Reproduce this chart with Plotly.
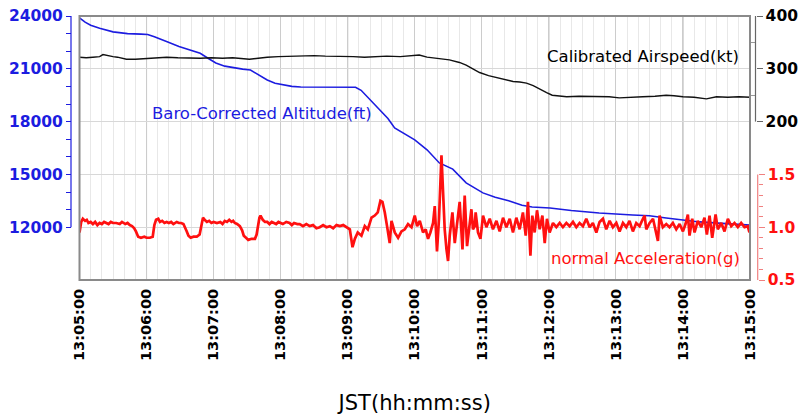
import pandas as pd
import plotly.graph_objects as go

BASE = "2000-01-01 "
T0 = pd.Timestamp(BASE + "13:05:00")
T1 = pd.Timestamp(BASE + "13:15:00")

# ---- Baro-corrected altitude (ft): seconds after 13:05:00, value
alt_t = [0, 5, 10, 18, 30, 43, 55, 61, 67, 73, 79, 89, 99, 108, 115, 122, 130, 138, 146, 153,
         160, 168, 175, 182, 190, 198, 220, 247, 252, 256, 262, 269, 276, 282, 291, 300, 311,
         322, 334, 346, 361, 372, 384, 385, 387, 396, 405, 421, 440, 465, 495, 510, 525, 540,
         555, 575, 597, 600]
alt_v = [23900, 23650, 23480, 23300, 23100, 23000, 22970, 22950, 22820, 22650, 22520, 22270,
         22070, 21880, 21600, 21330, 21150, 21050, 20980, 20930, 20680, 20360, 20180, 20080,
         20000, 19970, 19960, 19950, 19780, 19510, 19150, 18660, 18180, 17640, 17300, 16960,
         16400, 15650, 15300, 14520, 13950, 13700, 13500, 13480, 13400, 13250, 13150, 13094,
         12950, 12810, 12697, 12650, 12526, 12420, 12300, 12220, 12130, 12120]

# ---- Calibrated airspeed (kt)
cas_t = [0, 6, 12, 18, 21, 25, 30, 34, 38, 42, 50, 60, 70, 78, 88, 98, 108, 118, 128, 137,
         145, 152, 160, 168, 178, 188, 197, 210, 220, 233, 245, 255, 265, 275, 287, 296, 304,
         311, 320, 331, 340, 346, 352, 358, 366, 376, 382, 388, 394, 400, 406, 412, 418, 423,
         430, 436, 447, 455, 465, 474, 483, 490, 495, 504, 515, 525, 532, 540, 550, 561, 570,
         580, 590, 598, 600]
cas_v = [322, 321, 322, 323, 327, 325, 323, 322, 320, 318, 318, 319, 321, 322, 321, 320, 320,
         321, 320, 321, 319, 318, 320, 322, 323, 324, 325, 325, 324, 324, 323, 322, 323, 324,
         323, 324, 326, 322, 320, 317, 312, 307, 300, 293, 287, 282, 279, 276, 275, 273, 268,
         261, 255, 250, 248, 247, 248, 248, 248, 247, 245, 246, 247, 247, 248, 250, 249, 247,
         246, 243, 247, 246, 247, 247, 246]

# ---- Normal acceleration (g)
acc_t = [0, 1.5, 3, 5, 6.5, 8, 10, 12, 14, 16, 18, 20, 22, 24, 26, 28, 30, 33, 36, 38, 41, 43,
         45, 47, 49, 50.5, 52.5, 55, 58, 60, 63, 65.5, 67, 68.5, 70.5, 72, 74, 76, 78, 80, 82,
         84, 87, 89, 91, 93, 94.5, 96, 97.5, 99.5, 102, 105, 107.5, 109, 110.5, 112, 114, 116,
         118, 120, 123, 126, 128, 130, 132, 134, 136, 137.5, 139, 141, 143.5, 145.5, 147, 149,
         151, 154, 157, 158.5, 160, 161, 162, 164, 166, 168, 170, 172, 174, 176, 178, 180, 182,
         185, 188, 190, 192, 195, 197, 200, 203, 206, 209, 212, 215, 218, 221, 224, 227, 230,
         233, 236, 239,
         241.9, 244.3, 246.4, 249, 252.3, 255.3, 258, 261.3, 264.2, 266.9, 269.3, 271.1, 273.2,
         275.2, 277.6, 279.2, 282.1, 285.1, 288.1, 291.1, 294, 297.1, 300, 302.1, 304.5, 307.4,
         309.8, 311.9, 314, 316.4, 317.9, 319.9, 321.7, 323.9, 325.3, 326.8, 328.4, 329.8,
         331.3, 333.7, 335.8, 337.8, 340.2, 342.7, 344.7, 346.8, 349.2, 350.7, 352.1, 353.7,
         354.5, 356.6, 358.8, 361.1, 364.1, 367.1, 370, 373.1, 376, 379, 382, 385, 387.9,
         390.9, 393.9, 396.8, 399.3, 401.3, 403.5, 405.2, 407.3, 409.4, 411.8, 414.2, 416.3,
         418.3, 420.7, 423.7, 426.7, 429.7, 432.6, 435.7, 438.6, 441.6, 444.6, 447.5, 450.5,
         453.5, 456.5, 459.4, 462.5, 465.4, 468.4, 471.4, 474.4, 477.3, 480.4, 483.3, 486.3,
         489.3, 492.2, 495.2, 498.2, 501.2, 504.2, 505.7, 507.2, 510.2, 513.2, 516.1, 517.6,
         519.1, 522, 525.1, 528, 531, 534, 537, 540, 542.3, 544.4, 545.9, 548.3, 550.4, 553.3,
         556.4, 559.3, 561.4, 563.8, 566.2, 569.2, 571.2, 574.3, 577.2, 580.2, 583.2, 586.1,
         589.1, 592.1, 595.1, 598, 599.5]
acc_v = [0.95, 1.05, 1.08, 1.06, 1.07, 1.04, 1.05, 1.03, 1.05, 1.02, 1.04, 1.03, 1.05, 1.04,
         1.03, 1.05, 1.04, 1.04, 1.03, 1.05, 1.03, 1.04, 1.02, 1.01, 0.99, 0.96, 0.91, 0.90,
         0.91, 0.90, 0.90, 0.91, 1.02, 1.07, 1.08, 1.05, 1.06, 1.04, 1.05, 1.04, 1.05, 1.03,
         1.05, 1.04, 1.04, 1.03, 1.00, 0.96, 0.92, 0.90, 0.91, 0.91, 0.93, 1.02, 1.09, 1.07,
         1.05, 1.06, 1.04, 1.05, 1.04, 1.05, 1.03, 1.06, 1.05, 1.07, 1.05, 1.06, 1.04, 1.03,
         1.01, 0.97, 0.92, 0.90, 0.88, 0.89, 0.89, 0.93, 1.06, 1.09, 1.11, 1.07, 1.05, 1.05,
         1.03, 1.05, 1.04, 1.03, 1.05, 1.04, 1.03, 1.05, 1.04, 1.02, 1.04, 1.03, 1.03, 1.01,
         1.03, 1.01, 1.02, 0.99, 1.00, 1.02, 1.00, 1.01, 0.99, 1.02, 1.01, 1.02, 1.00,
         0.98, 0.81, 0.89, 0.95, 0.92, 1.01, 0.98, 1.09, 1.11, 1.14, 1.25, 1.24, 1.14, 1.01,
         0.85, 1.06, 0.95, 0.90, 0.96, 0.98, 1.03, 1.00, 1.11, 1.01, 1.06, 0.95, 0.98, 0.89,
         0.95, 1.04, 1.20, 0.77, 1.08, 1.68, 1.36, 0.98, 0.79, 0.68, 0.92, 1.14, 0.85, 1.01,
         1.24, 0.79, 1.30, 0.82, 1.08, 1.17, 0.98, 1.01, 1.14, 0.95, 0.89, 1.11, 1.00, 1.08,
         0.98, 1.06, 0.96, 1.09, 1.00, 1.08, 0.95, 1.09, 0.98, 1.14, 0.92, 1.24, 0.73, 1.11,
         0.95, 1.16, 0.98, 1.11, 0.85, 1.08, 0.95, 1.04, 1.00, 1.04, 1.00, 1.04, 1.01, 1.05,
         1.00, 1.04, 1.01, 1.08, 1.00, 1.04, 0.95, 1.05, 1.08, 0.98, 1.06, 1.00, 1.04, 0.96,
         1.04, 1.00, 1.06, 0.96, 1.04, 1.01, 1.08, 1.11, 0.98, 1.04, 1.08, 0.93, 0.87, 1.11,
         1.00, 1.03, 1.00, 1.04, 0.98, 1.03, 0.96, 1.03, 1.12, 0.92, 1.08, 0.95, 1.06, 1.00,
         1.09, 0.93, 1.11, 0.90, 1.12, 0.98, 1.04, 0.96, 1.08, 1.01, 1.04, 1.00, 1.04, 1.00,
         1.01, 0.95]

# ---- axis ticks / labels
alt_ticks = [12000, 15000, 18000, 21000, 24000]
alt_minor = [13000, 14000, 16000, 17000, 19000, 20000, 22000, 23000]
cas_ticks = [200, 300, 400]
cas_minor = [250, 350]
acc_ticks = [0.5, 1.0, 1.5]
acc_labels = ["0.5", "1.0", "1.5"]
acc_minor = [0.6, 0.7, 0.8, 0.9, 1.1, 1.2, 1.3, 1.4]
marker_minutes = ["13:06:00", "13:09:00", "13:12:00", "13:14:00"]


def to_time(sec):
    return T0 + pd.to_timedelta(sec, unit="s")


BLUE = "#1c1ce0"
RED = "#ff1010"
FONT = "DejaVu Sans"

FW, FH = 798, 415
L, R, TOP, BOT = 71, 40, 16, 135
pw = FW - L - R
ph = FH - TOP - BOT


def px(xs):  # screen x -> paper x
    return (xs - L) / pw


def py(ys):  # screen y -> paper y
    return (FH - BOT - ys) / ph


xd0 = px(79.5)
xd1 = px(750)
cas_pos = px(755.5)
acc_pos = px(757.7)

fig = go.Figure()
fig.add_trace(go.Scatter(x=to_time(alt_t), y=alt_v, mode="lines", yaxis="y",
                         line=dict(color=BLUE, width=1.6), showlegend=False))
fig.add_trace(go.Scatter(x=to_time(cas_t), y=cas_v, mode="lines", yaxis="y2",
                         line=dict(color="#111111", width=1.4), showlegend=False))
fig.add_trace(go.Scatter(x=to_time(acc_t), y=acc_v, mode="lines", yaxis="y3",
                         line=dict(color=RED, width=2.7), showlegend=False))

fig.update_layout(
    width=FW, height=FH,
    margin=dict(l=L, r=R, t=TOP, b=BOT, autoexpand=False),
    paper_bgcolor="white", plot_bgcolor="white",
    font=dict(family=FONT, size=16, color="black"),
    xaxis=dict(
        type="date", range=[T0, T1], domain=[xd0, xd1], anchor="y", automargin=False,
        tickmode="linear", tick0=T0, dtick=60000, tickformat="%H:%M:%S",
        tickangle=-90, tickfont=dict(size=14.5, color="black", weight="bold"),
        ticks="", ticklabelstandoff=5, ticklabeloverflow="allow",
        showgrid=True, gridcolor="#cccccc", gridwidth=1,
        minor=dict(dtick=10000, tick0=T0, showgrid=True, gridcolor="#e8e8e8", gridwidth=1),
        showline=False, zeroline=False,
        title=dict(text="JST(hh:mm:ss)", font=dict(size=21, color="black"), standoff=40),
    ),
    yaxis=dict(
        range=[9000, 24000], anchor="free", position=0, side="left", automargin=False,
        tickmode="array", tickvals=alt_ticks, tickformat="d", ticks="outside", ticklen=5,
        tickcolor=BLUE, tickwidth=1, ticklabeloverflow="allow",
        minor=dict(tickmode="array", tickvals=alt_minor, ticks="outside", ticklen=5,
                   tickcolor=BLUE, showgrid=False),
        tickfont=dict(size=15.5, color=BLUE, weight="bold"),
        showgrid=True, gridcolor="#d8d8d8", gridwidth=1,
        showline=False, zeroline=False,
    ),
    yaxis2=dict(
        range=[-100, 400], overlaying="y", anchor="free", position=cas_pos, side="right",
        automargin=False, ticklabeloverflow="allow",
        tickmode="array", tickvals=cas_ticks, ticks="outside", ticklen=6,
        tickcolor="#666666",
        minor=dict(tickmode="array", tickvals=cas_minor, ticks="inside", ticklen=5,
                   tickcolor="#999999", showgrid=False),
        tickfont=dict(size=15.5, color="black", weight="bold"),
        showgrid=False, showline=False, zeroline=False,
    ),
    yaxis3=dict(
        range=[0.5, 3.0], overlaying="y", anchor="free", position=acc_pos, side="right",
        automargin=False, ticklabeloverflow="allow",
        tickmode="array", tickvals=acc_ticks, ticktext=acc_labels, ticks="outside",
        ticklen=6, tickcolor="#f08080",
        minor=dict(tickmode="array", tickvals=acc_minor, ticks="outside", ticklen=4,
                   tickcolor="#f08080", showgrid=False),
        tickfont=dict(size=15.5, color=RED, weight="bold"),
        showgrid=False, showline=False, zeroline=False,
    ),
)

shapes = []
for m in marker_minutes:
    tm = pd.Timestamp(BASE + m)
    shapes.append(dict(type="line", xref="x", yref="y domain", x0=tm, x1=tm, y0=0, y1=1,
                       line=dict(color="#a8a8a8", width=1), layer="below"))
# plot frame
shapes.append(dict(type="rect", xref="x domain", yref="y domain", x0=0, x1=1, y0=0, y1=1,
                   line=dict(color="#8a8a8a", width=2)))
# partial axis lines
shapes.append(dict(type="line", xref="paper", yref="y", x0=0, x1=0,
                   y0=alt_ticks[0], y1=alt_ticks[-1], line=dict(color=BLUE, width=1.2)))
shapes.append(dict(type="line", xref="paper", yref="y2", x0=cas_pos, x1=cas_pos,
                   y0=cas_ticks[0], y1=cas_ticks[-1], line=dict(color="#666666", width=1.2)))
shapes.append(dict(type="line", xref="paper", yref="y3", x0=acc_pos, x1=acc_pos,
                   y0=acc_ticks[0], y1=acc_ticks[-1], line=dict(color="#f08080", width=1.2)))
fig.update_layout(shapes=shapes)

fig.add_annotation(text="Calibrated Airspeed(kt)", xref="paper", yref="paper",
                   x=px(741), y=py(57), xanchor="right", yanchor="middle",
                   showarrow=False, font=dict(size=16.5, color="black"))
fig.add_annotation(text="Baro-Corrected Altitude(ft)", xref="paper", yref="paper",
                   x=px(150), y=py(113), xanchor="left", yanchor="middle",
                   showarrow=False, font=dict(size=16.5, color=BLUE))
fig.add_annotation(text="normal Acceleration(g)", xref="paper", yref="paper",
                   x=px(742), y=py(258), xanchor="right", yanchor="middle",
                   showarrow=False, font=dict(size=16.5, color=RED))

fig.write_html("out.html", config={"displayModeBar": False},
               post_script="document.body.style.margin='0';document.body.style.padding='0';"
                           "document.body.style.overflow='hidden';")
